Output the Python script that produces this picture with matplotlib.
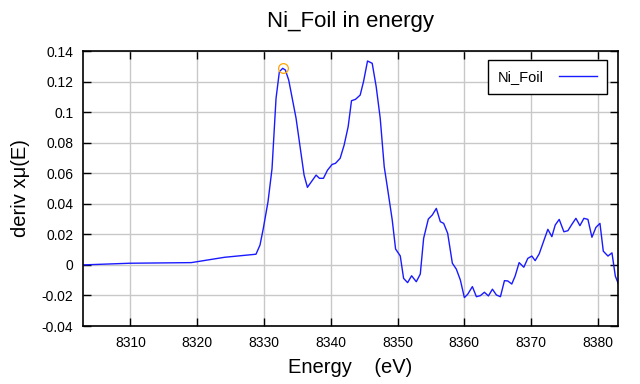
import matplotlib
matplotlib.use("Agg")
import matplotlib.pyplot as plt
from matplotlib.ticker import FuncFormatter, MultipleLocator
import numpy as np

plt.rcParams['font.family'] = ['Liberation Sans', 'DejaVu Sans']

# values
energy = [8302.9, 8309.9, 8319.1, 8324.1, 8328.8, 8329.4, 8329.9, 8330.6, 8331.2,
          8331.8, 8332.3, 8332.8, 8333.2, 8333.7, 8334.8, 8336.0, 8336.5, 8337.1,
          8337.8, 8338.3, 8338.9, 8339.5, 8340.2, 8340.7, 8341.4, 8342.0, 8342.6,
          8343.1, 8343.7, 8344.4, 8344.9, 8345.5, 8346.2, 8346.8, 8347.4, 8348.0,
          8348.5, 8349.2, 8349.7, 8350.4, 8350.9, 8351.5, 8352.1, 8352.8, 8353.4,
          8353.9, 8354.6, 8355.2, 8355.8, 8356.4, 8356.9, 8357.5, 8358.2, 8358.8,
          8359.4, 8360.0, 8360.5, 8361.2, 8361.8, 8362.4, 8363.0, 8363.6, 8364.2,
          8364.8, 8365.4, 8366.0, 8366.5, 8367.1, 8367.6, 8368.2, 8368.9, 8369.5,
          8370.1, 8370.6, 8371.2, 8371.9, 8372.5, 8373.1, 8373.6, 8374.2, 8374.9,
          8375.5, 8376.1, 8376.7, 8377.3, 8377.9, 8378.5, 8379.1, 8379.7, 8380.3,
          8380.8, 8381.5, 8382.1, 8382.6, 8383.2]
deriv = [0.0, 0.0011, 0.0015, 0.005, 0.007, 0.013, 0.024, 0.0414, 0.063,
         0.109, 0.1265, 0.1287, 0.1276, 0.121, 0.096, 0.0588, 0.0508, 0.0545,
         0.0588, 0.0567, 0.0567, 0.062, 0.0658, 0.0665, 0.0698, 0.0785, 0.0905,
         0.1075, 0.1084, 0.1112, 0.120, 0.1335, 0.132, 0.1166, 0.096, 0.0643,
         0.050, 0.0294, 0.0104, 0.0059, -0.0088, -0.0116, -0.0071, -0.011, -0.006,
         0.0174, 0.030, 0.0327, 0.037, 0.0283, 0.0272, 0.0207, 0.0011, -0.0028,
         -0.0099, -0.0214, -0.0192, -0.0142, -0.0208, -0.0201, -0.0179, -0.0203, -0.0159,
         -0.0197, -0.0208, -0.0103, -0.0105, -0.0125, -0.0073, 0.0015, -0.0015, 0.0043,
         0.0058, 0.0028, 0.0072, 0.0159, 0.0233, 0.0185, 0.0261, 0.0298, 0.0217,
         0.0224, 0.0266, 0.0305, 0.0257, 0.0305, 0.0298, 0.0181, 0.0246, 0.0272,
         0.009, 0.0058, 0.0079, -0.0073, -0.014]
peak_e = [8332.8]
peak_v = [0.1287]

fig = plt.figure(figsize=(6.4, 3.84), dpi=100)
ax = fig.add_axes([0.1297, 0.151, 0.8359, 0.716])

ax.plot(energy, deriv, color='#1a1aff', lw=1.0, label='Ni_Foil')
ax.plot(peak_e, peak_v, 'o', mfc='none', mec='#ffa500', ms=7, mew=0.9)

ax.set_xlim(8302.9, 8383.0)
ax.set_ylim(-0.04, 0.14)
ax.xaxis.set_major_locator(MultipleLocator(10))
ax.yaxis.set_major_locator(MultipleLocator(0.02))
ax.yaxis.set_major_formatter(FuncFormatter(lambda v, p: '%g' % round(v, 4)))

ax.grid(True, color='#c8c8c8', lw=1.0)
ax.set_axisbelow(True)
ax.tick_params(direction='in', top=True, right=True, length=6, width=1,
               labelsize=10, pad=7)
for s in ax.spines.values():
    s.set_linewidth(1.2)

ax.set_title('Ni_Foil in energy', fontsize=16, pad=17)
ax.set_xlabel('Energy    (eV)', fontsize=14.5, labelpad=6)
ax.set_ylabel('deriv xμ(E)', fontsize=14.5, labelpad=8)

leg = ax.legend(loc='upper right', markerfirst=False, fontsize=10.5, fancybox=False,
                framealpha=1, edgecolor='black', borderpad=0.7, handlelength=2.6,
                handletextpad=1.0, bbox_to_anchor=(0.993, 0.995))
leg.get_frame().set_linewidth(1.0)

fig.savefig('out.png', dpi=100)
